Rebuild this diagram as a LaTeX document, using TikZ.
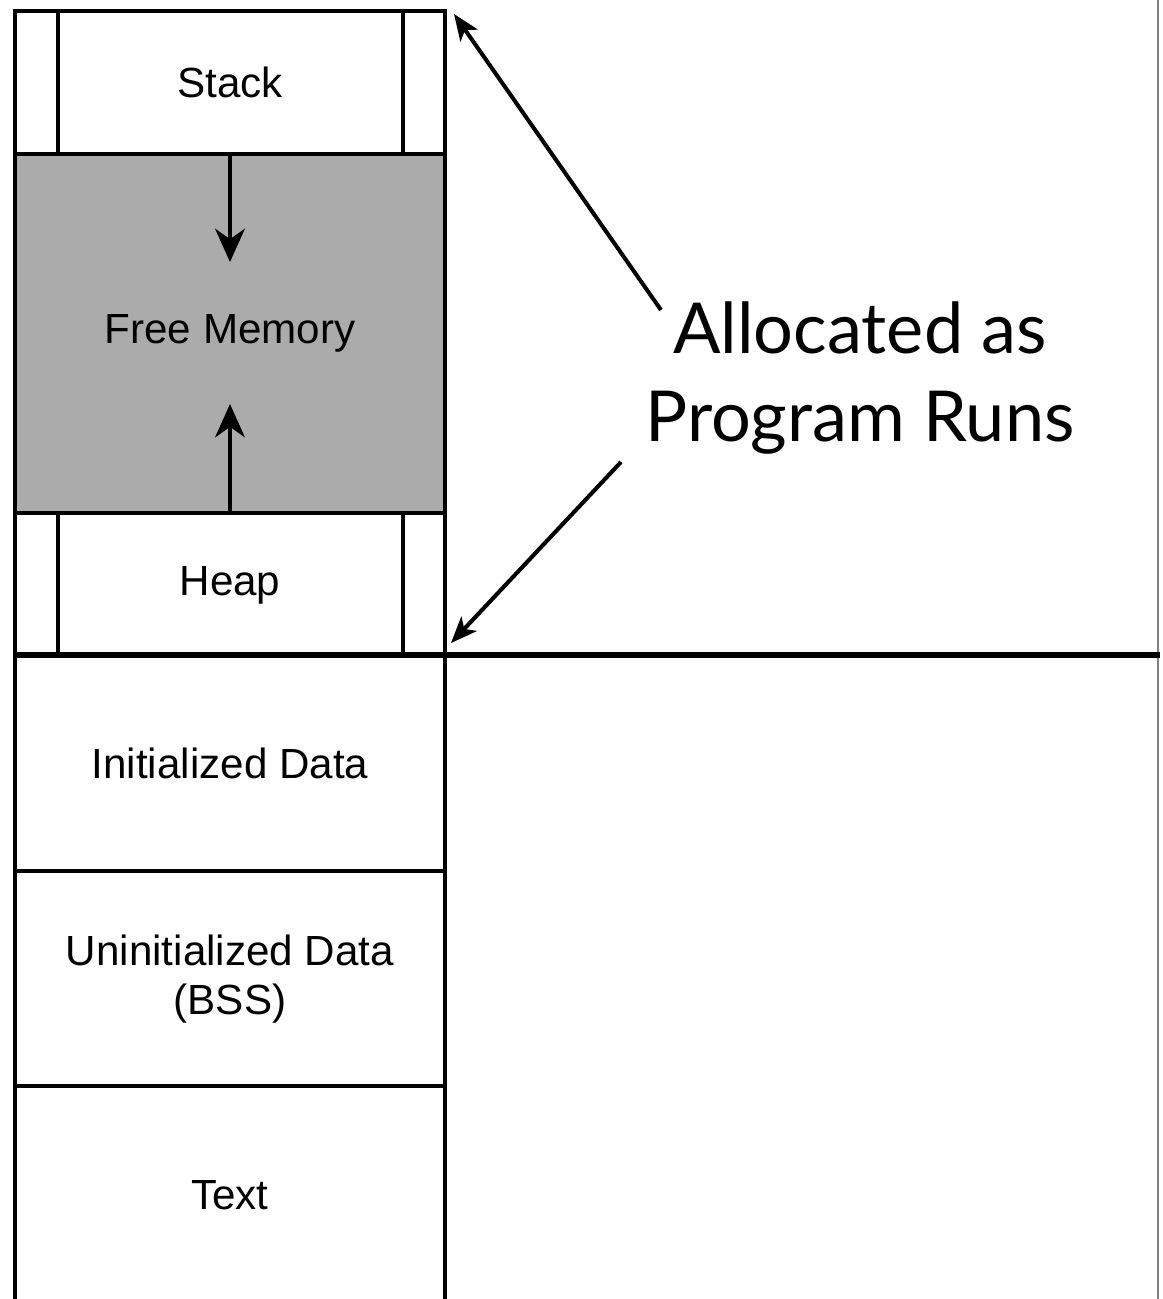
\documentclass[tikz,border=0pt]{standalone}
\usepackage{fontspec}
\setmainfont{Liberation Sans}
\newfontfamily\notefont{Lato}
\usetikzlibrary{arrows.meta}
\definecolor{freegray}{HTML}{ABABAB}
\tikzset{
    seg/.style={font=\fontsize{24}{28}\selectfont, align=center},
    growarrow/.style={line width=1.8pt, -{Stealth[length=19pt, width=17pt, inset=6pt]}},
    runsarrow/.style={line width=2.3pt, -{Stealth[length=15pt, width=12pt, inset=4pt]}}
}
\begin{document}
\begin{tikzpicture}[x=0.02cm, y=-0.02cm, line width=1.8pt]
    \useasboundingbox (0,0) rectangle (1163,1299);
    \draw[gray, line width=0.8pt] (1158,0) -- (1158,1299);

    % stack, free memory, heap
    \filldraw[fill=freegray] (15,154) rectangle (445,513);
    \draw (15,11) rectangle (445,154);
    \draw (15,513) rectangle (445,655);
    \foreach \x in {58, 403} {
        \draw (\x,11) -- (\x,154);
        \draw (\x,513) -- (\x,655);
    }
    \node[seg] (stack) at (230,82) {Stack};
    \node[seg] (free) at (230,333) {Free Memory};
    \node[seg] (heap) at (230,585) {Heap};

    \coordinate (stackbot) at (230,154);
    \coordinate (downtip) at (230,262);
    \coordinate (heaptop) at (230,513);
    \coordinate (uptip) at (230,404);
    \draw[growarrow] (stackbot) -- (downtip);
    \draw[growarrow] (heaptop) -- (uptip);

    % fixed part
    \draw (15,655) -- (15,1299);
    \draw (445,655) -- (445,1299);
    \foreach \y in {871, 1086} \draw (15,\y) -- (445,\y);
    \node[seg] (init) at (230,763) {Initialized Data};
    \node[seg] (uninit) at (230,979) {Uninitialized Data\\(BSS)};
    \node[seg] (text) at (230,1195) {Text};

    \draw[line width=3.3pt] (15,655) -- (1160,655);

    % label with arrows
    \node[font=\notefont\fontsize{40}{50}\selectfont, align=center] (alloc) at (860,378) {Allocated as\\Program Runs};
    \coordinate (topcorner) at (454,14);
    \coordinate (heapcorner) at (451,643);
    \coordinate (a1) at (661,310);
    \coordinate (a2) at (621,462);
    \draw[runsarrow] (a1) -- (topcorner);
    \draw[runsarrow] (a2) -- (heapcorner);
\end{tikzpicture}
\end{document}
